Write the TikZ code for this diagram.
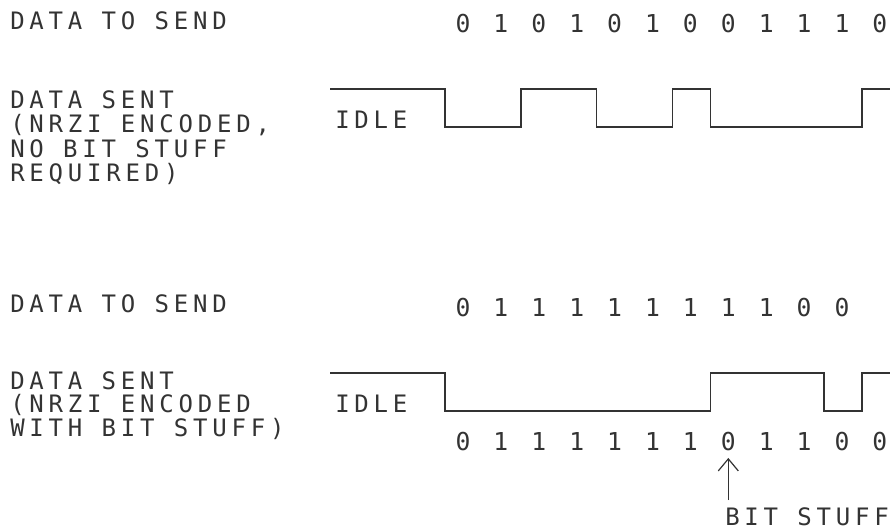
\documentclass[tikz,border=0pt]{standalone}
\usepackage{fontspec}
\usetikzlibrary{arrows.meta}
\newfontfamily\cadfont[LetterSpace=20]{DejaVu Sans Mono}
\newfontfamily\digfont{DejaVu Sans Mono}
\definecolor{ink}{HTML}{333333}
\tikzset{
  lbl/.style={anchor=base west, inner sep=0pt, text=ink, font=\cadfont\fontsize{18}{22}\selectfont},
  dig/.style={anchor=base, inner sep=0pt, text=ink, font=\digfont\fontsize{18.5}{22}\selectfont},
  wave/.style={draw=ink, line width=1.1pt, line join=miter},
  stuffarrow/.style={draw=ink, line width=0.9pt, -{Straight Barb[length=9pt,width=15pt,line width=0.9pt]}}
}
\begin{document}
\begin{tikzpicture}[x=0.75pt,y=-0.75pt]
\useasboundingbox (0,0) rectangle (890,529);
\fill[white] (0,0) rectangle (890,529);
% ---- upper example ----
\node[lbl] (send1) at (10,29) {DATA TO SEND};
\node[lbl] (sent1a) at (10,108) {DATA SENT};
\node[lbl] (sent1b) at (10,132.5) {(NRZI ENCODED,};
\node[lbl] (sent1c) at (10,157) {NO BIT STUFF};
\node[lbl] (sent1d) at (10,181) {REQUIRED)};
\node[lbl] (idle1) at (335,128) {IDLE};
\foreach \b [count=\i from 0] in {0,1,0,1,0,1,0,0,1,1,1,0}
  \node[dig] (t\i) at (463+37.9*\i,32) {\b};
\draw[wave] (330,89) -- (445,89) -- (445,127) -- (520.8,127) -- (520.8,89)
  -- (596.6,89) -- (596.6,127) -- (672.4,127) -- (672.4,89) -- (710.3,89)
  -- (710.3,127) -- (861.9,127) -- (861.9,89) -- (890,89);
% ---- lower example ----
\node[lbl] (send2) at (10,312) {DATA TO SEND};
\node[lbl] (sent2a) at (10,389) {DATA SENT};
\node[lbl] (sent2b) at (10,412) {(NRZI ENCODED};
\node[lbl] (sent2c) at (10,436) {WITH BIT STUFF)};
\node[lbl] (idle2) at (335,412) {IDLE};
\foreach \b [count=\i from 0] in {0,1,1,1,1,1,1,1,1,0,0}
  \node[dig] (m\i) at (463+37.9*\i,316.5) {\b};
\foreach \b [count=\i from 0] in {0,1,1,1,1,1,1,0,1,1,0,0}
  \node[dig] (b\i) at (463+37.9*\i,450) {\b};
\draw[wave] (330,373) -- (445,373) -- (445,411) -- (710.3,411) -- (710.3,373)
  -- (824,373) -- (824,411) -- (861.9,411) -- (861.9,373) -- (890,373);
\node[lbl] (stuff) at (725,525) {BIT STUFF};
\coordinate (arrbot) at (b7.south |- 0,500);
\draw[stuffarrow] (arrbot) -- ([yshift=-5.5pt]b7.south);
\end{tikzpicture}
\end{document}
